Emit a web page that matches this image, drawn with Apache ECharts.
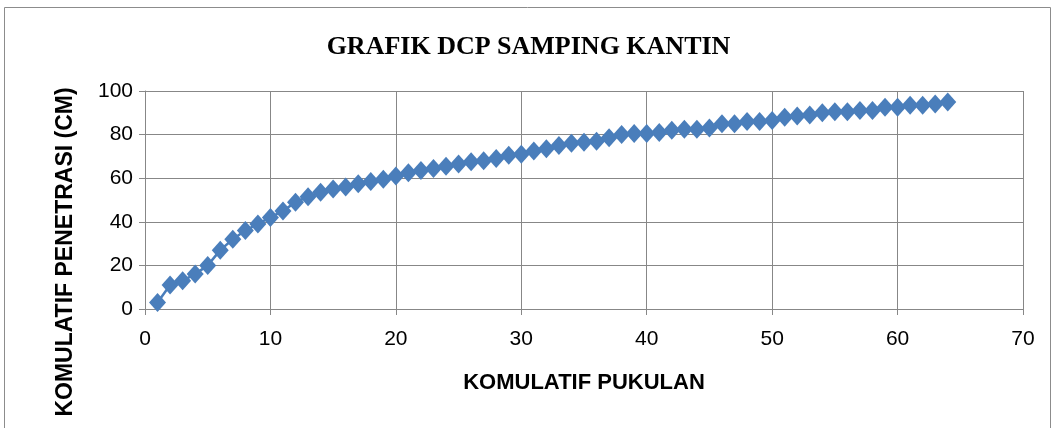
<!DOCTYPE html>
<html>
<head>
<meta charset="utf-8">
<title>Grafik DCP Samping Kantin</title>
<script src="https://cdn.jsdelivr.net/npm/echarts@6/dist/echarts.min.js"></script>
<style>
  html, body { margin: 0; padding: 0; background: #ffffff; }
  #chart { width: 1057px; height: 428px; }
</style>
</head>
<body>
<div id="chart"></div>
<script>
// Cumulative blow count (x) and cumulative penetration in cm (y)
const pukulan = [
  1, 2, 3, 4, 5, 6, 7, 8, 9, 10, 11, 12, 13, 14, 15, 16,
  17, 18, 19, 20, 21, 22, 23, 24, 25, 26, 27, 28, 29, 30, 31, 32,
  33, 34, 35, 36, 37, 38, 39, 40, 41, 42, 43, 44, 45, 46, 47, 48,
  49, 50, 51, 52, 53, 54, 55, 56, 57, 58, 59, 60, 61, 62, 63, 64
];
const penetrasi = [
  3, 11, 13, 16, 20, 27, 32, 36, 39, 42, 45, 49, 51.5, 53.5, 55, 56,
  57.5, 58.5, 59.5, 61, 62.5, 63.5, 64.5, 65.5, 66.5, 67.5, 68, 69, 70.5, 71, 72.5, 73.5,
  75, 76, 76.5, 77, 78.5, 80, 80.5, 80.5, 81, 82, 82.5, 82.5, 83, 85, 85, 86,
  86, 86.5, 88, 88.5, 89, 90, 90.5, 90.5, 91, 91, 92.5, 92.5, 93.5, 93.5, 94, 95
];
const xTicks = { min: 0, max: 70, interval: 10 };
const yTicks = { min: 0, max: 100, interval: 20 };

const titleText = 'GRAFIK DCP SAMPING KANTIN';
const xName = 'KOMULATIF PUKULAN';
const yName = 'KOMULATIF PENETRASI (CM)';

const points = pukulan.map((x, i) => [x, penetrasi[i]]);

const gridColor = '#878787';
const markColor = '#4A7EBB';

const chart = echarts.init(document.getElementById('chart'), null, { renderer: 'canvas' });
chart.setOption({
  animation: false,
  backgroundColor: '#ffffff',
  graphic: [{
    type: 'rect',
    shape: { x: 4.5, y: 7.5, width: 1046, height: 440 },
    style: { fill: 'none', stroke: '#8c8c8c', lineWidth: 1 },
    silent: true
  }],
  title: {
    text: titleText,
    left: 'center',
    top: 29,
    textStyle: {
      fontFamily: 'Liberation Serif',
      fontWeight: 'bold',
      fontSize: 26,
      color: '#000000'
    }
  },
  grid: { left: 145, right: 34, top: 91, bottom: 119, containLabel: false },
  xAxis: {
    type: 'value',
    min: xTicks.min,
    max: xTicks.max,
    interval: xTicks.interval,
    name: xName,
    nameLocation: 'middle',
    nameGap: 63,
    nameTextStyle: {
      fontFamily: 'Liberation Sans',
      fontWeight: 'bold',
      fontSize: 22,
      color: '#000000'
    },
    axisLine: { show: true, lineStyle: { color: gridColor, width: 1 } },
    axisTick: { show: true, length: 6, lineStyle: { color: gridColor } },
    axisLabel: {
      margin: 20,
      fontFamily: 'Liberation Sans',
      fontSize: 21,
      color: '#000000'
    },
    splitLine: { show: true, lineStyle: { color: gridColor, width: 1 } }
  },
  yAxis: {
    type: 'value',
    min: yTicks.min,
    max: yTicks.max,
    interval: yTicks.interval,
    name: yName,
    nameLocation: 'middle',
    nameGap: 68,
    nameRotate: 90,
    nameTextStyle: {
      fontFamily: 'Liberation Sans',
      fontWeight: 'bold',
      fontSize: 23,
      color: '#000000',
      padding: [0, 104, 0, 0]
    },
    axisLine: { show: true, lineStyle: { color: gridColor, width: 1 } },
    axisTick: { show: true, length: 6, lineStyle: { color: gridColor } },
    axisLabel: {
      margin: 12,
      fontFamily: 'Liberation Sans',
      fontSize: 21,
      color: '#000000'
    },
    splitLine: { show: true, lineStyle: { color: gridColor, width: 1 } }
  },
  series: [{
    type: 'line',
    data: points,
    symbol: 'diamond',
    symbolSize: [17, 19],
    showAllSymbol: true,
    lineStyle: { color: markColor, width: 2.5 },
    itemStyle: { color: markColor, borderColor: markColor, borderWidth: 0 },
    z: 3
  }]
});
</script>
</body>
</html>
